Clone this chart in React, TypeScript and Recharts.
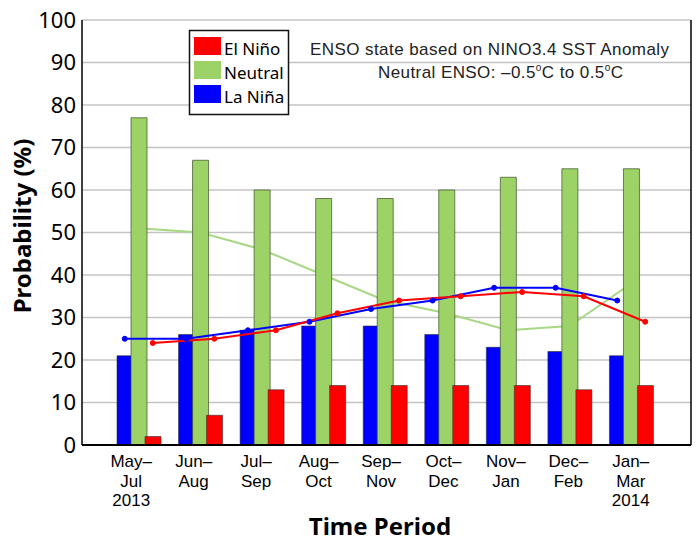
import React from 'react';
import {
  ComposedChart,
  Bar,
  Line,
  XAxis,
  YAxis,
  CartesianGrid,
  Customized,
} from 'recharts';

// ---- data ----
const periods = [
  'May–Jul 2013', 'Jun–Aug', 'Jul–Sep', 'Aug–Oct', 'Sep–Nov',
  'Oct–Dec', 'Nov–Jan', 'Dec–Feb', 'Jan–Mar 2014',
];
const periodStart = ['May–', 'Jun–', 'Jul–', 'Aug–', 'Sep–', 'Oct–', 'Nov–', 'Dec–', 'Jan–'];
const periodEnd = ['Jul', 'Aug', 'Sep', 'Oct', 'Nov', 'Dec', 'Jan', 'Feb', 'Mar'];
const periodYear = ['2013', '', '', '', '', '', '', '', '2014'];

const laNinaProb = [21, 26, 27, 28, 28, 26, 23, 22, 21];
const neutralProb = [77, 67, 60, 58, 58, 60, 63, 65, 65];
const elNinoProb = [2, 7, 13, 14, 14, 14, 14, 13, 14];

const laNinaClim = [25, 25, 27, 29, 32, 34, 37, 37, 34];
const neutralClim = [51, 50, 46, 40, 34, 31, 27, 28, 38];
const elNinoClim = [24, 25, 27, 31, 34, 35, 36, 35, 29];

const yTicks = [0, 10, 20, 30, 40, 50, 60, 70, 80, 90, 100];

const legendItems = [
  { label: 'El Niño', color: '#ff0000' },
  { label: 'Neutral', color: '#9dd267' },
  { label: 'La Niña', color: '#0000ff' },
];

const data = periods.map((p, i) => ({
  period: p,
  laNina: laNinaProb[i],
  neutral: neutralProb[i],
  elNino: elNinoProb[i],
  laNinaC: laNinaClim[i],
  neutralC: neutralClim[i],
  elNinoC: elNinoClim[i],
}));

const FONT = '"Noto Sans", "DejaVu Sans", sans-serif';
const ARIAL = '"Liberation Sans", Arial, sans-serif';
const RED = '#ff0000';
const BLUE = '#0000ff';
const GREEN = '#9dd267';
const GREEN_LINE = '#a8d884';

const PeriodTick = (props: any) => {
  const { x, y, payload } = props;
  const i = periods.indexOf(payload.value);
  return (
    <text x={x} y={y} textAnchor="middle" fontSize={17} fontFamily={ARIAL} fill="#000">
      <tspan x={x} y={y + 22}>{periodStart[i]}</tspan>
      <tspan x={x} y={y + 41.5}>{periodEnd[i]}</tspan>
      {periodYear[i] ? <tspan x={x} y={y + 61}>{periodYear[i]}</tspan> : null}
    </text>
  );
};

const Decorations = () => (
  <g>
    {/* axis titles */}
    <text
      x={380}
      y={535}
      textAnchor="middle"
      fontSize={24}
      fontWeight={700}
      fontFamily={FONT}
      fill="#000"
    >
      Time Period
    </text>
    <text
      transform="rotate(-90)"
      x={-226}
      y={31}
      textAnchor="middle"
      fontSize={24}
      fontWeight={700}
      fontFamily={FONT}
      fill="#000"
    >
      Probability (%)
    </text>

    {/* annotation */}
    <text
      x={310}
      y={55}
      fontSize={17}
      fontFamily={ARIAL}
      fill="#222"
      textLength={359}
      lengthAdjust="spacing"
    >
      ENSO state based on NINO3.4 SST Anomaly
    </text>
    <text
      x={378}
      y={78}
      fontSize={17}
      fontFamily={ARIAL}
      fill="#222"
      textLength={245}
      lengthAdjust="spacing"
    >
      Neutral ENSO: –0.5
      <tspan dy={-7} fontSize={10}>o</tspan>
      <tspan dy={7}>C to 0.5</tspan>
      <tspan dy={-7} fontSize={10}>o</tspan>
      <tspan dy={7}>C</tspan>
    </text>

    {/* legend */}
    <rect x={189.5} y={30.5} width={99} height={84} fill="#fff" stroke="#111" strokeWidth={1.5} />
    {legendItems.map((it, k) => (
      <g key={it.label}>
        <rect x={194} y={37 + k * 24} width={27} height={18} fill={it.color} />
        <text x={224} y={55 + k * 24} fontSize={17} fontFamily={FONT} fill="#000">
          {it.label}
        </text>
      </g>
    ))}
  </g>
);

export default function App() {
  return (
    <div style={{ position: 'absolute', left: 0, top: 0, width: 697, height: 542, background: '#fff' }}>
      <ComposedChart
        width={697}
        height={542}
        data={data}
        margin={{ top: 20, right: 0, bottom: 0, left: 0 }}
        barGap={-2}
      >
        <CartesianGrid vertical={false} stroke="#c4c4c4" strokeWidth={1.5} />

        <XAxis
          dataKey="period"
          padding={{ left: 18, right: 29 }}
          height={97}
          interval={0}
          tickLine={false}
          tickSize={0}
          tickMargin={0}
          axisLine={{ stroke: '#000', strokeWidth: 2 }}
          tick={<PeriodTick />}
        />
        <XAxis xAxisId="bars" dataKey="period" hide padding={{ left: 26, right: 29 }} />
        <XAxis xAxisId="lnLine" dataKey="period" hide padding={{ left: 12, right: 43 }} />
        <XAxis xAxisId="enLine" dataKey="period" hide padding={{ left: 40, right: 15 }} />
        <XAxis
          xAxisId="top"
          dataKey="period"
          orientation="top"
          height={0}
          tick={false}
          tickLine={false}
          axisLine={{ stroke: '#000', strokeWidth: 1.5 }}
        />

        <YAxis
          domain={[0, 100]}
          ticks={yTicks}
          width={82}
          interval={0}
          tickLine={false}
          tickSize={4}
          tickMargin={2}
          axisLine={{ stroke: '#000', strokeWidth: 1.5 }}
          tick={{ fontSize: 22, fontFamily: FONT, fill: '#000' }}
        />
        <YAxis
          yAxisId="right"
          orientation="right"
          domain={[0, 100]}
          width={6}
          tick={false}
          tickLine={false}
          axisLine={{ stroke: '#000', strokeWidth: 1.5 }}
        />

        <Line
          xAxisId="bars"
          dataKey="neutralC"
          stroke={GREEN_LINE}
          strokeWidth={2}
          dot={false}
          isAnimationActive={false}
          zIndex={250}
        />

        <Bar
          xAxisId="bars"
          dataKey="laNina"
          barSize={16}
          fill={BLUE}
          stroke="rgba(40,40,40,0.55)"
          strokeWidth={1}
          isAnimationActive={false}
        />
        <Bar
          xAxisId="bars"
          dataKey="neutral"
          barSize={16}
          fill={GREEN}
          stroke="rgba(60,80,40,0.7)"
          strokeWidth={1}
          isAnimationActive={false}
        />
        <Bar
          xAxisId="bars"
          dataKey="elNino"
          barSize={16}
          fill={RED}
          stroke="rgba(40,40,40,0.55)"
          strokeWidth={1}
          isAnimationActive={false}
        />

        <Line
          xAxisId="lnLine"
          dataKey="laNinaC"
          stroke={BLUE}
          strokeWidth={2}
          dot={{ r: 2.5, fill: BLUE, stroke: BLUE, strokeWidth: 1 }}
          isAnimationActive={false}
        />
        <Line
          xAxisId="enLine"
          dataKey="elNinoC"
          stroke={RED}
          strokeWidth={2}
          dot={{ r: 2.5, fill: RED, stroke: RED, strokeWidth: 1 }}
          isAnimationActive={false}
        />

        <Customized component={Decorations} />
      </ComposedChart>
    </div>
  );
}
